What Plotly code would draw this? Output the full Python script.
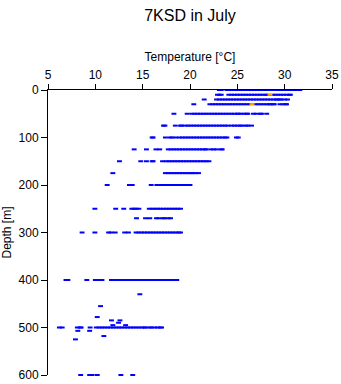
import plotly.graph_objects as go

# Temperature [°C] readings per standard depth [m]
t0 = [23.1, 23.3, 23.9, 24.1, 24.6, 24.9, 25.2, 25.5, 25.8, 26.1, 26.4, 26.7, 27.0, 27.3, 27.6, 27.9, 28.2, 28.5, 28.8, 29.1, 29.4, 29.7, 30.0, 30.3, 30.6, 30.9, 31.2, 31.3, 31.6]
t10 = [22.9, 23.1, 23.3, 24.1, 24.4, 24.7, 25.0, 25.3, 25.6, 25.9, 26.2, 26.5, 26.8, 27.1, 27.4, 27.7, 28.0, 28.2, 28.7, 29.0, 29.3, 29.6, 29.9, 30.2, 30.5, 30.6]
t20 = [21.5, 22.8, 23.1, 23.4, 23.7, 24.0, 24.3, 24.6, 24.9, 25.2, 25.5, 25.8, 26.1, 26.4, 26.7, 27.0, 27.3, 27.6, 27.9, 28.2, 28.5, 28.8, 29.1, 29.2, 29.5, 29.6, 30.0, 30.3]
t30 = [20.4, 22.1, 22.4, 22.7, 23.0, 23.3, 23.6, 23.9, 24.2, 24.5, 24.8, 25.1, 25.4, 25.7, 26.0, 26.3, 26.9, 27.2, 27.5, 27.8, 28.1, 28.4, 28.5, 28.8, 28.9, 29.5, 29.8, 30.1, 30.2]
t50 = [18.3, 19.7, 20.2, 20.5, 20.8, 21.1, 21.4, 21.7, 22.0, 22.3, 22.6, 22.9, 23.2, 23.5, 23.8, 24.1, 24.4, 24.7, 25.0, 25.1, 25.4, 25.7, 26.0, 26.1, 26.7, 27.0, 27.45, 27.55, 28.1]
t75 = [17.2, 17.35, 18.45, 19.0, 19.1, 19.5, 19.8, 20.1, 20.4, 20.7, 21.0, 21.3, 21.6, 21.9, 22.2, 22.5, 22.8, 23.1, 23.4, 23.7, 24.0, 24.4, 24.7, 25.0, 25.3, 25.5, 25.9, 26.1, 26.5]
t100 = [16.0, 16.1, 17.4, 17.9, 18.1, 18.5, 18.9, 19.2, 19.5, 19.8, 20.1, 20.4, 20.7, 21.0, 21.3, 21.6, 21.9, 22.2, 22.5, 22.8, 23.1, 23.4, 23.7, 23.9, 24.9, 25.1]
t125 = [14.1, 15.4, 16.4, 16.8, 17.7, 18.0, 18.3, 18.6, 18.9, 19.2, 19.5, 19.8, 20.1, 20.4, 20.7, 21.0, 21.3, 21.6, 21.7, 22.2, 22.5, 22.8, 23.3, 23.4]
t150 = [12.55, 14.8, 15.4, 16.0, 16.1, 17.1, 17.5, 17.8, 18.1, 18.4, 18.7, 19.0, 19.3, 19.6, 19.9, 20.2, 20.5, 20.8, 21.1, 21.4, 21.7, 22.0]
t175 = [11.85, 17.4, 17.7, 18.0, 18.3, 18.6, 18.9, 19.2, 19.5, 19.8, 20.1, 20.3, 20.6, 20.9]
t200 = [11.25, 13.6, 13.9, 15.9, 16.5, 16.8, 17.1, 17.4, 17.7, 18.0, 18.3, 18.6, 18.9, 19.2, 19.5, 19.8, 20.0]
t250 = [9.95, 12.15, 13.0, 13.85, 14.1, 14.3, 14.6, 15.7, 16.0, 16.3, 16.6, 16.9, 17.2, 17.5, 17.8, 18.1, 18.4, 18.7, 19.0]
t270 = [14.35, 15.3, 15.75, 16.45, 16.7, 17.15, 17.3, 17.7, 17.95]
t300 = [8.6, 9.95, 11.4, 11.65, 12.1, 13.1, 13.5, 14.3, 14.6, 14.9, 15.2, 15.5, 15.8, 16.1, 16.4, 16.7, 17.0, 17.3, 17.6, 17.9, 18.2, 18.5, 18.8, 19.0]
t400 = [6.9, 7.1, 9.1, 10.0, 10.3, 10.6, 10.7, 11.7, 12.0, 12.3, 12.7, 13.0, 13.3, 13.6, 13.9, 14.2, 14.5, 14.8, 15.1, 15.4, 15.7, 16.0, 16.3, 16.6, 16.9, 17.2, 17.5, 17.8, 18.1, 18.4, 18.6]
t500 = [6.2, 6.5, 8.1, 8.4, 8.5, 9.45, 10.1, 10.4, 10.7, 11.0, 11.3, 11.6, 11.9, 12.2, 12.5, 12.8, 13.1, 13.4, 13.7, 14.0, 14.3, 14.6, 14.9, 15.2, 15.3, 15.75, 15.9, 16.25, 16.55, 16.85, 17.0]
t600 = [8.45, 9.4, 9.65, 10.2, 12.7, 13.95]

levels = [0, 10, 20, 30, 50, 75, 100, 125, 150, 175, 200, 250, 270, 300, 400, 500, 600]
level_temps = [t0, t10, t20, t30, t50, t75, t100, t125, t150, t175, t200, t250, t270, t300, t400, t500, t600]

# scattered readings at other depths
other_temp = [14.7, 10.55, 10.2, 11.7, 12.6, 12.45, 11.85, 13.2, 8.15, 9.4, 10.9, 7.9]
other_depth = [430, 455, 478, 485, 485, 490, 495, 495, 507, 507, 518, 525]

# highlighted readings (orange)
hi_temp = [28.45, 26.55]
hi_depth = [10, 30]

x_ticks = [5, 10, 15, 20, 25, 30, 35]
y_ticks = [0, 100, 200, 300, 400, 500, 600]

xs, ys = [], []
for d, ts in zip(levels, level_temps):
    xs += ts
    ys += [d] * len(ts)
xs += other_temp
ys += other_depth

FONT = "Liberation Sans, Arial, sans-serif"
BLUE = "#0000FF"
ORANGE = "#FFA500"

fig = go.Figure()
fig.add_trace(go.Scatter(
    x=xs, y=ys, mode="markers",
    marker=dict(symbol="line-ew", size=3.5, line=dict(color=BLUE, width=2)),
    showlegend=False, hoverinfo="x+y", cliponaxis=False))
fig.add_trace(go.Scatter(
    x=hi_temp, y=hi_depth, mode="markers",
    marker=dict(symbol="line-ew", size=3.5, line=dict(color=ORANGE, width=2)),
    showlegend=False, hoverinfo="x+y", cliponaxis=False))

fig.update_layout(
    width=341, height=384,
    margin=dict(l=48, r=9, t=90, b=9, autoexpand=False),
    paper_bgcolor="white", plot_bgcolor="white",
    font=dict(family=FONT, size=12, color="black"),
    title=dict(text="7KSD in July", x=190 / 341, xanchor="center",
               y=1 - 15 / 384, yanchor="middle", yref="container",
               font=dict(family=FONT, size=16, color="black")),
    xaxis=dict(side="top", range=[5, 35], tickvals=x_ticks,
               ticks="outside", ticklen=5, tickcolor="black", tickwidth=1,
               showline=True, linecolor="black", linewidth=1,
               showgrid=False, zeroline=False, automargin=False,
               tickfont=dict(family=FONT, size=12, color="black"),
               title=dict(text="Temperature [°C]", standoff=4,
                          font=dict(family=FONT, size=12, color="black"))),
    yaxis=dict(range=[600, 0], tickvals=y_ticks,
               ticks="outside", ticklen=6, tickcolor="black", tickwidth=1,
               showline=True, linecolor="black", linewidth=1,
               showgrid=False, zeroline=False, automargin=False,
               tickfont=dict(family=FONT, size=12, color="black"),
               title=dict(text="Depth [m]", standoff=4,
                          font=dict(family=FONT, size=12, color="black"))),
)

fig.write_html("out.html")
